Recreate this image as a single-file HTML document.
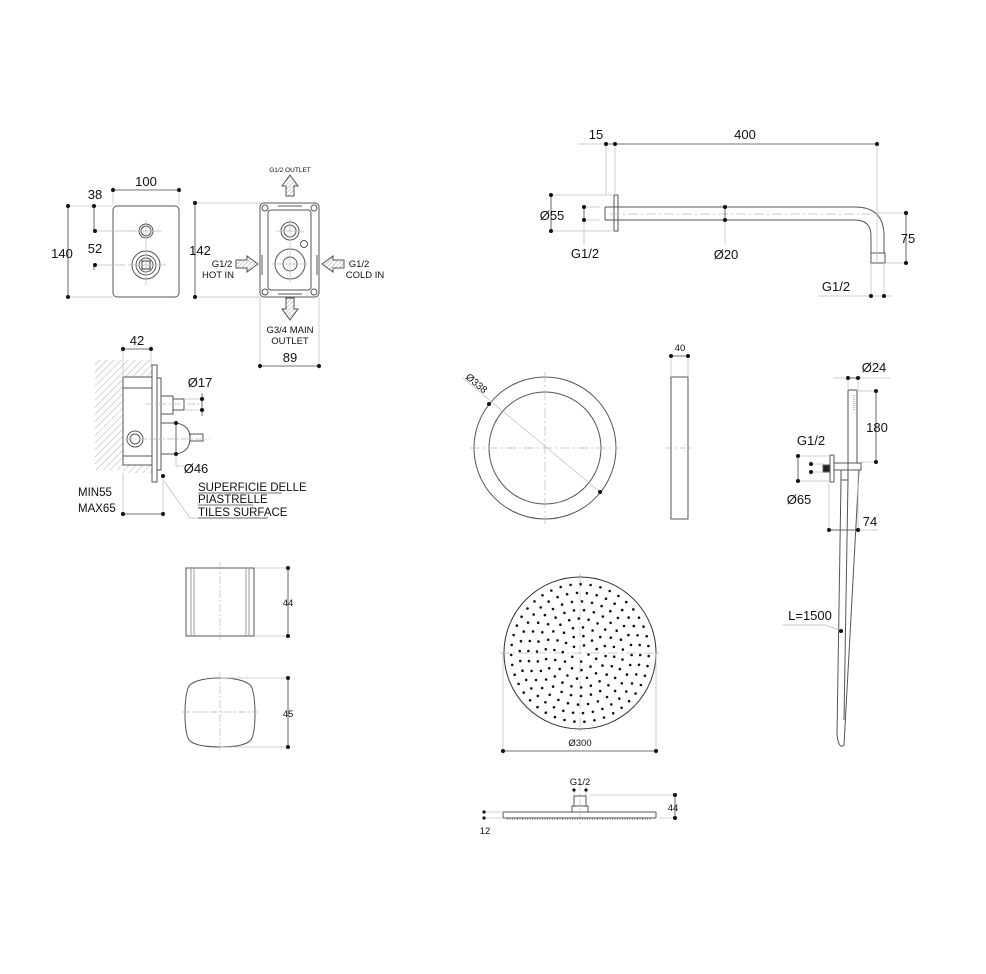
<!DOCTYPE html>
<html><head><meta charset="utf-8"><style>
html,body{margin:0;padding:0;background:#fff;}
svg{display:block;}
text{font-family:"Liberation Sans",Arial,sans-serif;fill:#111;}
</style></head><body>
<svg id="s" width="986" height="974" viewBox="0 0 986 974" xmlns="http://www.w3.org/2000/svg">
<defs>
<pattern id="h" width="5" height="5" patternUnits="userSpaceOnUse" patternTransform="rotate(45)"><line x1="0" y1="0" x2="0" y2="5" stroke="#999" stroke-width="0.8"/></pattern>
<pattern id="ha" width="3" height="3" patternUnits="userSpaceOnUse" patternTransform="rotate(45)"><line x1="0" y1="0" x2="0" y2="3" stroke="#777" stroke-width="0.7"/></pattern>
</defs>
<g fill="none" stroke="#555" stroke-width="1">
<rect x="113" y="206" width="66" height="91" rx="4"/>
<circle cx="146" cy="231" r="7"/><circle cx="146" cy="231" r="5"/>
<circle cx="146" cy="265" r="14"/><circle cx="146" cy="265" r="10"/><circle cx="146" cy="265" r="7"/>
<rect x="142" y="261" width="8" height="8" stroke="#333"/>
<g stroke="#bbb" stroke-width="0.7">
<line x1="130" y1="231" x2="162" y2="231"/><line x1="146" y1="220" x2="146" y2="285"/><line x1="128" y1="265" x2="166" y2="265"/>
<line x1="68" y1="206" x2="113" y2="206"/><line x1="68" y1="297" x2="113" y2="297"/>
<line x1="94" y1="231" x2="135" y2="231"/><line x1="94" y1="265" x2="125" y2="265"/>
<line x1="113" y1="186" x2="113" y2="204"/><line x1="179" y1="186" x2="179" y2="204"/>
</g>
<g stroke="#444" stroke-width="0.8">
<line x1="113" y1="190" x2="179" y2="190"/><line x1="68" y1="206" x2="68" y2="297"/><line x1="94" y1="206" x2="94" y2="231"/><line x1="94" y1="265" x2="94" y2="270"/>
</g>
<rect x="260" y="203" width="59" height="94" rx="4"/>
<rect x="268" y="210" width="43" height="80" rx="3"/>
<circle cx="265" cy="208" r="3"/><circle cx="314" cy="208" r="3"/><circle cx="265" cy="292" r="3"/><circle cx="314" cy="292" r="3"/>
<circle cx="290" cy="231" r="9"/><circle cx="290" cy="231" r="6"/>
<circle cx="290" cy="264" r="15"/><circle cx="290" cy="264" r="7"/>
<circle cx="304" cy="244" r="3.5"/>
<line x1="278" y1="206" x2="302" y2="206"/><line x1="278" y1="294" x2="302" y2="294"/>
<line x1="262" y1="255" x2="262" y2="275"/><line x1="317" y1="255" x2="317" y2="275"/>
<g stroke="#bbb" stroke-width="0.7">
<line x1="195" y1="203" x2="260" y2="203"/><line x1="195" y1="297" x2="260" y2="297"/>
<line x1="260" y1="297" x2="260" y2="370"/><line x1="319" y1="297" x2="319" y2="370"/>
<line x1="276" y1="231" x2="304" y2="231"/><line x1="290" y1="218" x2="290" y2="282"/><line x1="272" y1="264" x2="308" y2="264"/>
</g>
<line x1="195" y1="203" x2="195" y2="297" stroke="#444" stroke-width="0.8"/>
<line x1="260" y1="366" x2="319" y2="366" stroke="#444" stroke-width="0.8"/>
<path d="M286,196 V186 H282 L290,175 L298,186 H294 V196 Z" fill="url(#ha)"/>
<path d="M286,298 V309 H282 L290,320 L298,309 H294 V298 Z" fill="url(#ha)"/>
<path d="M236,260 H247 V256 L258,264 L247,272 V268 H236 Z" fill="url(#ha)"/>
<path d="M344,260 H333 V256 L322,264 L333,272 V268 H344 Z" fill="url(#ha)"/>
<rect x="95" y="360" width="28" height="110" fill="url(#h)" stroke="none"/>
<rect x="123" y="360" width="29" height="17" fill="url(#h)" stroke="none"/>
<rect x="123" y="465" width="29" height="8" fill="url(#h)" stroke="none"/>
<rect x="123" y="377" width="29" height="88"/>
<line x1="123" y1="388" x2="152" y2="388"/><line x1="123" y1="456" x2="152" y2="456"/>
<rect x="152" y="365" width="5" height="117"/>
<rect x="157" y="378" width="4" height="92"/>
<rect x="161" y="396" width="12" height="18"/>
<rect x="173" y="399" width="11" height="11"/>
<path d="M161,423 H176 Q190,425 190,438 Q190,452 176,454 H161"/>
<rect x="190" y="434" width="13" height="7"/>
<circle cx="135" cy="439" r="8"/><circle cx="135" cy="439" r="5"/>
<g stroke="#bbb" stroke-width="0.7">
<line x1="145" y1="404" x2="200" y2="404" stroke-dasharray="8 2 2 2"/>
<line x1="125" y1="439" x2="210" y2="439" stroke-dasharray="8 2 2 2"/>
<line x1="123" y1="345" x2="123" y2="377"/><line x1="151" y1="345" x2="151" y2="365"/>
<line x1="123" y1="473" x2="123" y2="518"/><line x1="163" y1="475" x2="163" y2="518"/>
<line x1="184" y1="399" x2="205" y2="399"/><line x1="184" y1="410" x2="205" y2="410"/>
<line x1="176" y1="454" x2="176" y2="466"/><line x1="176" y1="466" x2="184" y2="466"/>
<path d="M164,481 L190,518 H268"/>
</g>
<g stroke="#444" stroke-width="0.8">
<line x1="123" y1="349" x2="151" y2="349"/><line x1="123" y1="514" x2="163" y2="514"/>
<line x1="202" y1="393" x2="202" y2="416"/><line x1="176" y1="423" x2="176" y2="454"/>
</g>
<g stroke="#444" stroke-width="0.8"><line x1="198" y1="493" x2="282" y2="493"/><line x1="198" y1="505" x2="253" y2="505"/><line x1="198" y1="518" x2="268" y2="518"/></g>
<rect x="186" y="568" width="68" height="68"/>
<line x1="191" y1="568" x2="191" y2="636" stroke="#999"/><line x1="194" y1="568" x2="194" y2="636" stroke="#999"/>
<line x1="246" y1="568" x2="246" y2="636" stroke="#999"/><line x1="249" y1="568" x2="249" y2="636" stroke="#999"/>
<path d="M220,678 C238,678 250,682 252,688 C256,700 256,728 252,738 C249,745 236,747 220,747 C204,747 191,745 188,738 C184,728 184,700 188,688 C190,682 202,678 220,678 Z"/>
<g stroke="#bbb" stroke-width="0.7">
<line x1="220" y1="562" x2="220" y2="642" stroke-dasharray="8 2 2 2"/>
<line x1="220" y1="672" x2="220" y2="752" stroke-dasharray="8 2 2 2"/>
<line x1="182" y1="712" x2="258" y2="712" stroke-dasharray="8 2 2 2"/>
<line x1="254" y1="568" x2="288" y2="568"/><line x1="254" y1="636" x2="288" y2="636"/>
<line x1="220" y1="678" x2="288" y2="678"/><line x1="220" y1="747" x2="288" y2="747"/>
</g>
<line x1="288" y1="568" x2="288" y2="636" stroke="#444" stroke-width="0.8"/>
<line x1="288" y1="678" x2="288" y2="747" stroke="#444" stroke-width="0.8"/>
<rect x="614" y="195" width="4" height="36"/>
<path d="M605,207 H855 Q884,207 884,236 V253 M605,220 H855 Q871,220 871,236 V253 M605,207 V220"/>
<rect x="871" y="253" width="14" height="10"/>
<g stroke="#bbb" stroke-width="0.7">
<line x1="610" y1="214" x2="870" y2="214" stroke-dasharray="10 3 2 3"/>
<line x1="578" y1="144" x2="606" y2="144"/>
<line x1="606" y1="144" x2="606" y2="195"/><line x1="615" y1="144" x2="615" y2="195"/>
<line x1="877" y1="144" x2="877" y2="262"/>
<line x1="551" y1="195" x2="612" y2="195"/><line x1="551" y1="231" x2="612" y2="231"/>
<line x1="584" y1="207" x2="600" y2="207"/><line x1="584" y1="220" x2="600" y2="220"/>
<line x1="584" y1="220" x2="584" y2="245"/><line x1="725" y1="220" x2="725" y2="245"/>
<line x1="877" y1="213" x2="906" y2="213"/><line x1="886" y1="263" x2="906" y2="263"/>
<line x1="871" y1="263" x2="871" y2="296"/><line x1="884" y1="263" x2="884" y2="296"/>
<line x1="818" y1="296" x2="892" y2="296"/>
</g>
<g stroke="#444" stroke-width="0.8">
<line x1="606" y1="144" x2="877" y2="144"/>
<line x1="551" y1="195" x2="551" y2="231"/><line x1="584" y1="207" x2="584" y2="220"/>
<line x1="725" y1="207" x2="725" y2="220"/><line x1="906" y1="213" x2="906" y2="263"/>
</g>
<circle cx="545" cy="448" r="71"/><circle cx="545" cy="448" r="56"/>
<g stroke="#bbb" stroke-width="0.7">
<line x1="463" y1="378" x2="600" y2="492"/>
<line x1="470" y1="448" x2="620" y2="448" stroke-dasharray="10 3 2 3"/>
<line x1="545" y1="372" x2="545" y2="524" stroke-dasharray="10 3 2 3"/>
<line x1="666" y1="448" x2="693" y2="448" stroke-dasharray="6 3 2 3"/>
<line x1="671" y1="356" x2="671" y2="376"/><line x1="688" y1="356" x2="688" y2="376"/>
</g>
<rect x="671" y="377" width="17" height="142"/>
<line x1="671" y1="356" x2="688" y2="356" stroke="#444" stroke-width="0.8"/>
<rect x="848" y="390" width="9" height="73" rx="1"/>
<line x1="854" y1="395" x2="854" y2="410" stroke="#888" stroke-dasharray="1 1"/>
<rect x="830" y="455" width="4" height="27" rx="1"/>
<rect x="823" y="465" width="7" height="7" fill="#222"/>
<path d="M834,463 H861 V470 H834 M848,463 V470"/>
<path d="M841,470 V480 H848 V470"/>
<path d="M841,480 L837,735 Q839,750 844,745 L859,470"/>
<path d="M848,480 L844,720"/>
<g stroke="#bbb" stroke-width="0.7">
<line x1="833" y1="378" x2="890" y2="378"/><line x1="848" y1="378" x2="848" y2="390"/><line x1="858" y1="378" x2="858" y2="390"/>
<line x1="857" y1="391" x2="876" y2="391"/><line x1="861" y1="462" x2="876" y2="462"/>
<line x1="798" y1="456" x2="830" y2="456"/><line x1="798" y1="481" x2="830" y2="481"/>
<line x1="811" y1="464" x2="823" y2="464"/><line x1="811" y1="472" x2="823" y2="472"/>
<line x1="829" y1="482" x2="829" y2="530"/><line x1="858" y1="470" x2="858" y2="530"/>
<line x1="829" y1="530" x2="878" y2="530"/>
<path d="M782,625 H826 L841,631"/>
</g>
<g stroke="#444" stroke-width="0.8">
<line x1="848" y1="378" x2="858" y2="378"/><line x1="876" y1="391" x2="876" y2="462"/>
<line x1="798" y1="456" x2="798" y2="481"/><line x1="829" y1="530" x2="858" y2="530"/>
</g>
<circle cx="580" cy="653" r="76" stroke="#333"/>
<g stroke="#bbb" stroke-width="0.7">
<line x1="500" y1="653" x2="660" y2="653" stroke-dasharray="10 3 2 3"/>
<line x1="580" y1="573" x2="580" y2="733" stroke-dasharray="10 3 2 3"/>
<line x1="503" y1="653" x2="503" y2="755"/><line x1="656" y1="653" x2="656" y2="755"/>
<line x1="580" y1="785" x2="580" y2="825" stroke-dasharray="6 3 2 3"/>
<line x1="574" y1="790" x2="574" y2="796"/><line x1="586" y1="790" x2="586" y2="796"/>
<line x1="590" y1="795" x2="675" y2="795"/><line x1="660" y1="818" x2="675" y2="818"/>
<line x1="484" y1="812" x2="502" y2="812"/><line x1="484" y1="818" x2="502" y2="818"/>
</g>
<line x1="503" y1="751" x2="656" y2="751" stroke="#444" stroke-width="0.8"/>
<line x1="675" y1="795" x2="675" y2="818" stroke="#444" stroke-width="0.8"/>
<rect x="503" y="812" width="153" height="6" rx="1"/>
<line x1="507" y1="819" x2="652" y2="819" stroke="#666" stroke-dasharray="1 1.5"/>
<rect x="574" y="796" width="12" height="10"/>
<rect x="572" y="806" width="16" height="6"/>
</g>
<g id="dots" fill="#111"></g>
<g fill="#111">
<circle cx="113" cy="190" r="2"/><circle cx="179" cy="190" r="2"/>
<circle cx="68" cy="206" r="2"/><circle cx="68" cy="297" r="2"/><circle cx="94" cy="206" r="2"/>
<circle cx="95" cy="231" r="2"/><circle cx="95" cy="265" r="2"/>
<circle cx="195" cy="203" r="2"/><circle cx="195" cy="297" r="2"/>
<circle cx="260" cy="366" r="2"/><circle cx="319" cy="366" r="2"/>
<circle cx="123" cy="349" r="2"/><circle cx="151" cy="349" r="2"/>
<circle cx="123" cy="514" r="2"/><circle cx="163" cy="514" r="2"/><circle cx="163" cy="476" r="2"/>
<circle cx="202" cy="399" r="2"/><circle cx="202" cy="410" r="2"/>
<circle cx="176" cy="423" r="2"/><circle cx="176" cy="454" r="2"/>
<circle cx="288" cy="568" r="2"/><circle cx="288" cy="636" r="2"/><circle cx="288" cy="678" r="2"/><circle cx="288" cy="747" r="2"/>
<circle cx="606" cy="144" r="2"/><circle cx="615" cy="144" r="2"/><circle cx="877" cy="144" r="2"/>
<circle cx="551" cy="195" r="2"/><circle cx="551" cy="231" r="2"/>
<circle cx="584" cy="207" r="2"/><circle cx="584" cy="220" r="2"/>
<circle cx="725" cy="207" r="2"/><circle cx="725" cy="220" r="2"/>
<circle cx="906" cy="213" r="2"/><circle cx="906" cy="263" r="2"/>
<circle cx="871" cy="296" r="2"/><circle cx="884" cy="296" r="2"/>
<circle cx="489" cy="404" r="2"/><circle cx="600" cy="492" r="2"/>
<circle cx="671" cy="356" r="2"/><circle cx="688" cy="356" r="2"/>
<circle cx="848" cy="378" r="2"/><circle cx="858" cy="378" r="2"/>
<circle cx="876" cy="391" r="2"/><circle cx="876" cy="462" r="2"/>
<circle cx="798" cy="456" r="2"/><circle cx="798" cy="481" r="2"/>
<circle cx="811" cy="464" r="2"/><circle cx="811" cy="472" r="2"/>
<circle cx="829" cy="530" r="2"/><circle cx="858" cy="530" r="2"/>
<circle cx="841" cy="631" r="2"/>
<circle cx="503" cy="751" r="2"/><circle cx="656" cy="751" r="2"/>
<circle cx="574" cy="790" r="1.6"/><circle cx="586" cy="790" r="1.6"/>
<circle cx="675" cy="795" r="2"/><circle cx="675" cy="818" r="2"/>
<circle cx="484" cy="812" r="1.6"/><circle cx="484" cy="818" r="1.6"/>
</g>
<g font-size="13" text-anchor="middle">
<text x="146" y="186">100</text>
<text x="95" y="199">38</text>
<text x="62" y="258">140</text>
<text x="95" y="253">52</text>
<text x="200" y="255">142</text>
<text x="290" y="362">89</text>
<text x="137" y="345">42</text>
<text x="200" y="387">Ø17</text>
<text x="196" y="473">Ø46</text>
<text x="596" y="139">15</text>
<text x="745" y="139">400</text>
<text x="552" y="220">Ø55</text>
<text x="585" y="258">G1/2</text>
<text x="726" y="259">Ø20</text>
<text x="908" y="243">75</text>
<text x="836" y="291">G1/2</text>
<text x="811" y="445">G1/2</text>
<text x="799" y="504">Ø65</text>
<text x="874" y="372">Ø24</text>
<text x="877" y="432">180</text>
<text x="870" y="526">74</text>
<text x="810" y="620">L=1500</text>
</g>
<g font-size="11.5" text-anchor="start">
<text x="78" y="496">MIN55</text><text x="78" y="512">MAX65</text>
<text x="198" y="491">SUPERFICIE DELLE</text><text x="198" y="503">PIASTRELLE</text><text x="198" y="516">TILES SURFACE</text>
</g>
<g font-size="9.5" text-anchor="middle">
<text x="222" y="267">G1/2</text><text x="218" y="278">HOT IN</text>
<text x="359" y="267">G1/2</text><text x="365" y="278">COLD IN</text>
<text x="290" y="333">G3/4 MAIN</text><text x="290" y="344">OUTLET</text>
<text x="680" y="351">40</text>
<text x="580" y="746">Ø300</text>
<text x="580" y="785">G1/2</text>
<text x="673" y="811">44</text>
<text x="485" y="834">12</text>
<text x="288" y="606">44</text>
<text x="288" y="717">45</text>
</g>
<text x="290" y="172" font-size="6.5" text-anchor="middle">G1/2 OUTLET</text>
<text x="0" y="0" font-size="10" transform="translate(465,378) rotate(40)">Ø338</text>
</svg>
<script>
var g=document.getElementById('dots'),cx=580,cy=653,h='';
for(var k=1;k<=8;k++){var r=k*8.6,n=Math.round(2*Math.PI*r/10);for(var i=0;i<n;i++){var a=2*Math.PI*i/n+k*0.17;h+='<circle cx="'+(cx+r*Math.cos(a)).toFixed(1)+'" cy="'+(cy+r*Math.sin(a)).toFixed(1)+'" r="1.3"/>';}}
g.innerHTML=h;
</script>
</body></html>
